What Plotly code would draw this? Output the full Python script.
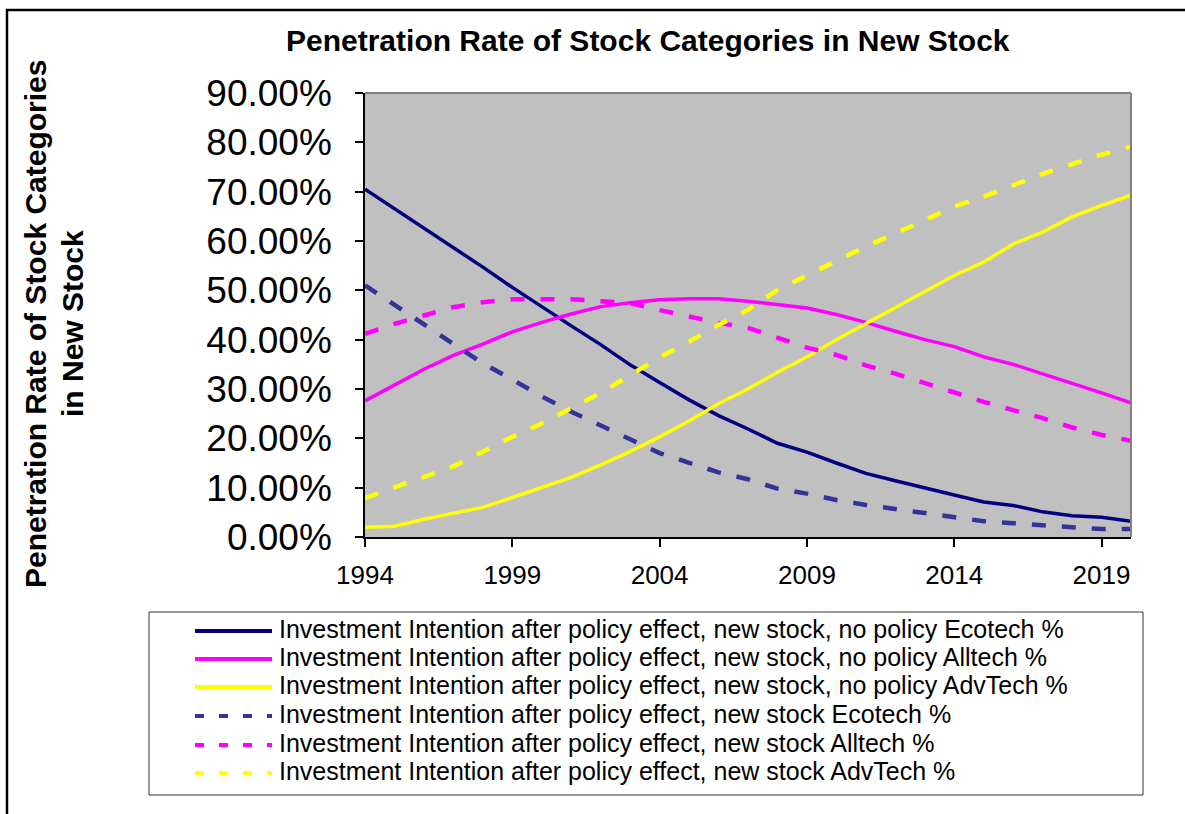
import plotly.graph_objects as go

# ---- data -------------------------------------------------------------
YEARS = list(range(1994, 2021))

ECOTECH_NO_POLICY = [70.5, 66.6, 62.7, 58.7, 54.7, 50.6, 46.6, 42.8, 39.0, 34.9,
                     31.3, 27.8, 24.6, 21.9, 19.0, 17.2, 15.0, 12.9, 11.4, 9.9,
                     8.5, 7.1, 6.4, 5.1, 4.3, 4.0, 3.2]
ALLTECH_NO_POLICY = [27.6, 30.9, 34.0, 36.8, 39.1, 41.6, 43.5, 45.2, 46.7, 47.5,
                     48.1, 48.3, 48.3, 47.8, 47.1, 46.4, 45.1, 43.5, 41.7, 40.0,
                     38.6, 36.5, 35.0, 33.1, 31.2, 29.2, 27.2]
ADVTECH_NO_POLICY = [2.0, 2.2, 3.6, 4.8, 6.0, 8.0, 10.1, 12.1, 14.6, 17.3,
                     20.3, 23.5, 27.0, 30.0, 33.4, 36.5, 40.0, 43.3, 46.6, 49.9,
                     53.0, 55.7, 59.4, 61.8, 64.9, 67.2, 69.3]
ECOTECH_POLICY = [51.0, 47.0, 43.0, 39.0, 35.2, 31.9, 28.5, 25.4, 22.5, 19.8,
                  17.0, 15.1, 13.1, 11.7, 9.8, 8.8, 7.5, 6.5, 5.7, 4.9,
                  3.9, 3.2, 2.8, 2.4, 2.0, 1.6, 1.6]
ALLTECH_POLICY = [41.2, 43.2, 44.9, 46.6, 47.6, 48.2, 48.2, 48.2, 47.8, 47.4,
                  46.0, 44.7, 43.4, 42.4, 40.5, 38.4, 36.9, 34.8, 33.1, 31.2,
                  29.2, 27.4, 25.7, 24.1, 22.2, 20.7, 19.5]
ADVTECH_POLICY = [7.9, 10.0, 12.0, 14.3, 17.3, 20.3, 23.0, 26.0, 29.2, 32.8,
                  36.4, 39.6, 43.0, 46.0, 50.1, 53.0, 56.0, 58.9, 61.5, 64.2,
                  67.0, 69.0, 71.3, 73.6, 75.6, 77.5, 79.1]

SERIES_NAMES = [
    "Investment Intention after policy effect, new stock, no policy Ecotech %",
    "Investment Intention after policy effect, new stock, no policy Alltech %",
    "Investment Intention after policy effect, new stock, no policy AdvTech %",
    "Investment Intention after policy effect, new stock Ecotech %",
    "Investment Intention after policy effect, new stock Alltech %",
    "Investment Intention after policy effect, new stock AdvTech %",
]
SERIES_VALUES = [ECOTECH_NO_POLICY, ALLTECH_NO_POLICY, ADVTECH_NO_POLICY,
                 ECOTECH_POLICY, ALLTECH_POLICY, ADVTECH_POLICY]

X_TICKS = [1994, 1999, 2004, 2009, 2014, 2019]

TITLE = "Penetration Rate of Stock Categories in New Stock"
Y_TITLE_LINES = ["Penetration Rate of Stock Categories", "in New Stock"]

# ---- styling ----------------------------------------------------------
COLORS = ["#000080", "#FF00FF", "#FFFF00", "#333399", "#FF00FF", "#FFFF00"]
WIDTHS = [3.5, 3.5, 3.5, 4.5, 4.5, 4.5]
DASHES = ["solid", "solid", "solid", "14px,16px", "14px,16px", "14px,16px"]
KEY_DASHES = ["solid", "solid", "solid", "9px,15px", "9px,15px", "9px,15px"]

FONT = "Liberation Sans, Arial, sans-serif"
W, H = 1185, 814
PL, PR, PT, PB = 365, 1131, 93, 537   # plot area in pixels


def fx(px):
    return (px - PL) / (PR - PL)


def fy(py):
    return (PB - py) / (PB - PT)


fig = go.Figure()
for name, vals, c, w, d in zip(SERIES_NAMES, SERIES_VALUES, COLORS, WIDTHS, DASHES):
    fig.add_trace(go.Scatter(x=YEARS, y=vals, mode="lines", name=name,
                             line=dict(color=c, width=w, dash=d),
                             showlegend=False))

shapes = []
annotations = []

# outer chart frame (left and top edges visible)
shapes.append(dict(type="rect", xref="paper", yref="paper",
                   x0=fx(7), x1=fx(1195), y0=fy(825), y1=fy(10),
                   line=dict(color="black", width=2.5), layer="above"))
# grey top / right edges of the plot area
shapes.append(dict(type="line", xref="paper", yref="paper",
                   x0=0, x1=1, y0=1, y1=1,
                   line=dict(color="#808080", width=2), layer="above"))
shapes.append(dict(type="line", xref="paper", yref="paper",
                   x0=1, x1=1, y0=0, y1=1,
                   line=dict(color="#808080", width=2), layer="above"))

# legend box
shapes.append(dict(type="rect", xref="paper", yref="paper",
                   x0=fx(149), x1=fx(1143), y0=fy(795), y1=fy(612),
                   line=dict(color="#333333", width=1), fillcolor="white",
                   layer="above"))
row_y = [631, 659, 687, 716, 745, 773]
for i, name in enumerate(SERIES_NAMES):
    shapes.append(dict(type="line", xref="paper", yref="paper",
                       x0=fx(195), x1=fx(272), y0=fy(row_y[i]), y1=fy(row_y[i]),
                       line=dict(color=COLORS[i], width=4, dash=KEY_DASHES[i]),
                       layer="above"))
    annotations.append(dict(text=name, xref="paper", yref="paper",
                            x=fx(277), y=fy(row_y[i] - 2),
                            xanchor="left", yanchor="middle", showarrow=False,
                            font=dict(family=FONT, size=25, color="black")))

# chart title
annotations.append(dict(text="<b>%s</b>" % TITLE, xref="paper", yref="paper",
                        x=fx(648), y=fy(40), xanchor="center", yanchor="middle",
                        showarrow=False,
                        font=dict(family=FONT, size=30, color="black")))
# y-axis title (two lines)
for xpx, line in zip([35, 72], Y_TITLE_LINES):
    annotations.append(dict(text="<b>%s</b>" % line, xref="paper", yref="paper",
                            x=fx(xpx), y=fy(324), xanchor="center",
                            yanchor="middle", textangle=-90, showarrow=False,
                            font=dict(family=FONT, size=30, color="black")))

fig.update_layout(
    width=W, height=H,
    margin=dict(l=PL, r=W - PR, t=PT, b=H - PB, pad=0),
    paper_bgcolor="white",
    plot_bgcolor="#C0C0C0",
    shapes=shapes,
    annotations=annotations,
    showlegend=False,
    font=dict(family=FONT, color="black"),
)
fig.update_xaxes(
    range=[1994, 2020], tickvals=X_TICKS, ticks="outside", ticklen=8,
    tickwidth=1.5, tickcolor="black", showline=True, linecolor="black",
    linewidth=1.5, showgrid=False, zeroline=False,
    tickfont=dict(family=FONT, size=26, color="black"), ticklabelstandoff=6,
)
fig.update_yaxes(
    range=[0, 90], dtick=10, tickformat=".2f", ticksuffix="%",
    ticks="outside", ticklen=8, tickwidth=1.5, tickcolor="black",
    showline=True, linecolor="black", linewidth=1.5, showgrid=False,
    zeroline=False, tickfont=dict(family=FONT, size=37, color="black"),
    ticklabelstandoff=16,
)

fig.write_html("out.html")
